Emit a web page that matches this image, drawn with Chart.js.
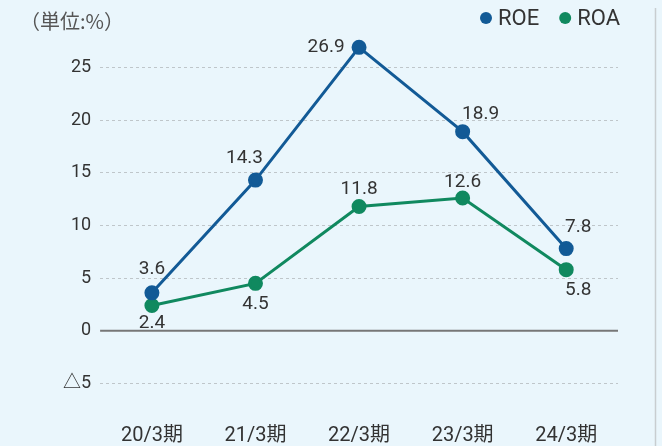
<!DOCTYPE html>
<html>
<head>
<meta charset="utf-8">
<script src="https://cdn.jsdelivr.net/npm/chart.js@4/dist/chart.umd.min.js"></script>
<style>
  html, body { margin: 0; padding: 0; background: #eaf6fc; }
  #wrap { width: 662px; height: 446px; }
</style>
</head>
<body>
<div id="wrap"><canvas id="roeChart" width="662" height="446"></canvas></div>
<script>
// data
const periods = ['20/3期', '21/3期', '22/3期', '23/3期', '24/3期'];
const roe = [3.6, 14.3, 26.9, 18.9, 7.8];
const roa = [2.4, 4.5, 11.8, 12.6, 5.8];
const yTicks = [-5, 0, 5, 10, 15, 20, 25];

// label offsets from each point [dx, dy]
const roeLabelOff = [[0, -24], [-11, -22], [-33, 0], [18, -17], [12, -21]];
const roaLabelOff = [[0, 18], [0, 21], [0, -17], [0, -16], [12, 21]];

const FONT = 'Roboto, "Noto Sans CJK JP", sans-serif';

const valueLabels = {
    id: 'valueLabels',
    afterDatasetsDraw(chart) {
        const ctx = chart.ctx;
        const offs = [roeLabelOff, roaLabelOff];
        ctx.save();
        ctx.font = '19px ' + FONT;
        ctx.fillStyle = '#333';
        ctx.textBaseline = 'middle';
        ctx.textAlign = 'center';
        chart.data.datasets.forEach((ds, i) => {
            chart.getDatasetMeta(i).data.forEach((pt, j) => {
                const [dx, dy] = offs[i][j];
                ctx.fillText(ds.data[j].toFixed(1), pt.x + dx, pt.y + dy);
            });
        });
        ctx.restore();
    }
};

// unit note, right border and the dot legend at the top right
const frame = {
    id: 'frame',
    beforeDraw(chart) {
        const ctx = chart.ctx;
        ctx.save();
        ctx.fillStyle = '#eaf6fc';
        ctx.fillRect(0, 0, chart.width, chart.height);
        ctx.strokeStyle = '#c8cdd0';
        ctx.lineWidth = 1.5;
        ctx.beginPath();
        ctx.moveTo(655.5, 8);
        ctx.lineTo(655.5, 446);
        ctx.stroke();
        ctx.font = '20px "Noto Sans CJK JP", sans-serif';
        ctx.fillStyle = '#555';
        ctx.textBaseline = 'middle';
        ctx.fillText('（単位:%）', 20, 21);

        ctx.font = '22px ' + FONT;
        let right = 620;
        const sets = chart.data.datasets.slice().reverse();
        sets.forEach(ds => {
            const w = ctx.measureText(ds.label).width;
            const tx = right - w;
            ctx.fillStyle = '#333';
            ctx.fillText(ds.label, tx, 19);
            ctx.fillStyle = ds.backgroundColor;
            ctx.beginPath();
            ctx.arc(tx - 12, 18, 6, 0, Math.PI * 2);
            ctx.fill();
            right = tx - 12 - 6 - 20;
        });
        ctx.restore();
    },
    // solid zero line on top of the dashed grid
    beforeDatasetsDraw(chart) {
        const ctx = chart.ctx;
        const y0 = chart.scales.y.getPixelForValue(0);
        const a = chart.chartArea;
        ctx.save();
        ctx.strokeStyle = '#777';
        ctx.lineWidth = 2;
        ctx.beginPath();
        ctx.moveTo(a.left, y0);
        ctx.lineTo(a.right, y0);
        ctx.stroke();
        ctx.restore();
    }
};

new Chart(document.getElementById('roeChart'), {
    type: 'line',
    data: {
        labels: periods,
        datasets: [{
            label: 'ROE',
            data: roe,
            borderColor: '#125a96',
            backgroundColor: '#125a96',
            borderWidth: 3,
            pointRadius: 6,
            pointHoverRadius: 6,
            tension: 0,
            clip: false
        }, {
            label: 'ROA',
            data: roa,
            borderColor: '#10895f',
            backgroundColor: '#10895f',
            borderWidth: 3,
            pointRadius: 6,
            pointHoverRadius: 6,
            tension: 0,
            clip: false
        }]
    },
    options: {
        responsive: false,
        animation: false,
        layout: { padding: { left: 54, right: 44, top: 40, bottom: -12 } },
        plugins: {
            legend: { display: false },
            tooltip: { enabled: false }
        },
        scales: {
            x: {
                offset: true,
                grid: { display: false, drawTicks: false },
                border: { display: false },
                ticks: { color: '#333', padding: 10, font: { family: FONT, size: 20 } }
            },
            y: {
                min: -7.9,
                max: 27.6,
                afterBuildTicks(axis) {
                    axis.ticks = yTicks.map(v => ({ value: v }));
                },
                grid: {
                    drawTicks: false,
                    color: ctx => ctx.tick.value === 0 ? 'rgba(0,0,0,0)' : '#bfc6ca',
                    lineWidth: 1
                },
                border: { display: false, dash: [3, 3] },
                ticks: {
                    color: '#333',
                    padding: 9,
                    font: { family: FONT, size: 18 },
                    callback: v => v < 0 ? '△' + Math.abs(v) : v
                }
            }
        }
    },
    plugins: [frame, valueLabels]
});
</script>
</body>
</html>
